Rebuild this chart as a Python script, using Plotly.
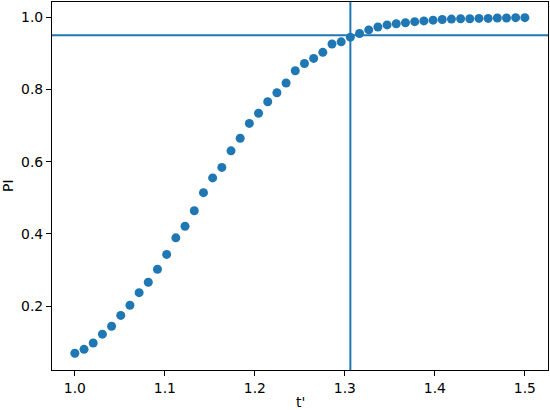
import plotly.graph_objects as go

t_prime = [1.0, 1.0102, 1.0204, 1.0306, 1.0408, 1.0510, 1.0612, 1.0714, 1.0816, 1.0918,
           1.1020, 1.1122, 1.1224, 1.1327, 1.1429, 1.1531, 1.1633, 1.1735, 1.1837, 1.1939,
           1.2041, 1.2143, 1.2245, 1.2347, 1.2449, 1.2551, 1.2653, 1.2755, 1.2857, 1.2959,
           1.3061, 1.3163, 1.3265, 1.3367, 1.3469, 1.3571, 1.3673, 1.3776, 1.3878, 1.3980,
           1.4082, 1.4184, 1.4286, 1.4388, 1.4490, 1.4592, 1.4694, 1.4796, 1.4898, 1.5]
pi_values = [0.069, 0.080, 0.0975, 0.122, 0.144, 0.174, 0.202, 0.237, 0.266, 0.302,
             0.343, 0.389, 0.421, 0.464, 0.514, 0.555, 0.584, 0.630, 0.665, 0.706,
             0.734, 0.766, 0.791, 0.818, 0.852, 0.872, 0.886, 0.903, 0.926, 0.932,
             0.945, 0.955, 0.965, 0.973, 0.979, 0.982, 0.985, 0.988, 0.990, 0.992,
             0.994, 0.995, 0.996, 0.996, 0.997, 0.997, 0.998, 0.998, 0.999, 0.999]
threshold = 0.95
t_cross = 1.3061

x_ticks = [1.0, 1.1, 1.2, 1.3, 1.4, 1.5]
y_ticks = [0.2, 0.4, 0.6, 0.8, 1.0]

color = "#1f77b4"
font = dict(family="DejaVu Sans", size=13.9, color="black")

fig = go.Figure()
fig.add_trace(go.Scatter(x=t_prime, y=pi_values, mode="markers",
                         marker=dict(color=color, size=9, line=dict(width=0)),
                         showlegend=False))
fig.add_hline(y=threshold, line=dict(color=color, width=2), layer="above")
fig.add_vline(x=t_cross, line=dict(color=color, width=2), layer="above")

axis_common = dict(showgrid=False, zeroline=False, showline=True, linecolor="black",
                   linewidth=1.1, mirror=True, ticks="outside", ticklen=5, tickwidth=1.1,
                   tickcolor="black", tickfont=font, automargin=False)
fig.update_xaxes(range=[0.9746, 1.5257], tickvals=x_ticks,
                 ticktext=[f"{v:.1f}" for v in x_ticks], **axis_common)
fig.update_yaxes(range=[0.0227, 1.0424], tickvals=y_ticks,
                 ticktext=[f"{v:.1f}" for v in y_ticks], **axis_common)
fig.add_annotation(text="t'", xref="paper", yref="paper", x=0.5, y=0,
                   yshift=-32, showarrow=False, xanchor="center", yanchor="middle", font=font)
fig.add_annotation(text="PI", xref="paper", yref="paper", x=0, y=0.5,
                   xshift=-44, showarrow=False, textangle=-90, xanchor="center",
                   yanchor="middle", font=font)
fig.update_layout(width=550, height=410, margin=dict(l=52, r=2, t=2, b=40),
                  plot_bgcolor="white", paper_bgcolor="white", font=font)
fig.write_html("out.html", config={"displayModeBar": False},
               post_script="document.body.style.margin='0';document.body.style.padding='0';")
